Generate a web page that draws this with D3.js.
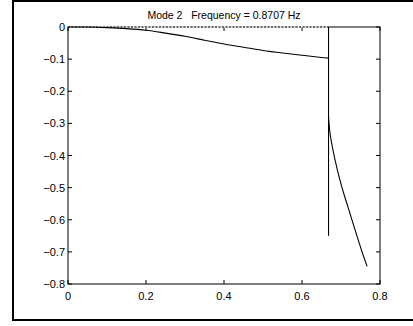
<!DOCTYPE html>
<html>
<head>
<meta charset="utf-8">
<script src="https://cdn.jsdelivr.net/npm/d3@7"></script>
<style>
  body { margin: 0; background: #fff; }
  svg text { font-family: "Liberation Sans", Arial, sans-serif; font-size: 11px; fill: #000; white-space: pre; }
</style>
</head>
<body>
<div id="chart"></div>
<script>
// mode shape, beam part
const beamX = [0, 0.05, 0.1, 0.15, 0.2, 0.25, 0.3, 0.35, 0.4, 0.45, 0.5, 0.55, 0.6, 0.65, 0.668];
const beamY = [0, 0, -0.002, -0.005, -0.01, -0.019, -0.029, -0.041, -0.053, -0.063, -0.073, -0.081, -0.088, -0.095, -0.097];
// tip part
const tipX = [0.668, 0.670, 0.673, 0.685, 0.697, 0.710, 0.723, 0.733, 0.744, 0.755, 0.767];
const tipY = [-0.28, -0.31, -0.34, -0.415, -0.475, -0.53, -0.58, -0.62, -0.662, -0.704, -0.745];
// vertical member
const postX = [0.668, 0.668];
const postY = [0, -0.65];
// undeformed line (dotted)
const baseX = [0, 0.668];
const baseY = [0, 0];

const xTicks = [0, 0.2, 0.4, 0.6, 0.8];
const yTicks = [0, -0.1, -0.2, -0.3, -0.4, -0.5, -0.6, -0.7, -0.8];
const title = "Mode 2   Frequency = 0.8707 Hz";

const W = 413, H = 326;
const svg = d3.select("#chart").append("svg").attr("width", W).attr("height", H);

// outer figure frame
svg.append("path")
    .attr("d", "M13,321 L13,1 L413,1 M13,320 L413,320")
    .attr("fill", "none").attr("stroke", "#000").attr("stroke-width", 2);

const x = d3.scaleLinear().domain([0, 0.8]).range([68, 380]);
const y = d3.scaleLinear().domain([-0.8, 0]).range([284, 27]);

// axes box
svg.append("rect")
    .attr("x", x(0)).attr("y", y(0))
    .attr("width", x(0.8) - x(0)).attr("height", y(-0.8) - y(0))
    .attr("fill", "none").attr("stroke", "#000").attr("stroke-width", 1);

// inward ticks (MATLAB style) on all four sides
const tl = 4;
const tg = svg.append("g").attr("stroke", "#000").attr("stroke-width", 1);
xTicks.forEach(t => {
    tg.append("line").attr("x1", x(t)).attr("x2", x(t)).attr("y1", y(-0.8)).attr("y2", y(-0.8) - tl);
    tg.append("line").attr("x1", x(t)).attr("x2", x(t)).attr("y1", y(0)).attr("y2", y(0) + tl);
});
yTicks.forEach(t => {
    tg.append("line").attr("x1", x(0)).attr("x2", x(0) + tl).attr("y1", y(t)).attr("y2", y(t));
    tg.append("line").attr("x1", x(0.8)).attr("x2", x(0.8) - tl).attr("y1", y(t)).attr("y2", y(t));
});

// tick labels
svg.selectAll(".xl").data(xTicks).enter().append("text")
    .attr("class", "xl")
    .attr("x", d => x(d)).attr("y", y(-0.8) + 16)
    .attr("text-anchor", "middle")
    .text(d => d3.format("")(d));
svg.selectAll(".yl").data(yTicks).enter().append("text")
    .attr("class", "yl")
    .attr("x", x(0) - 3).attr("y", d => y(d) + 4)
    .attr("text-anchor", "end")
    .text(d => d === 0 ? "0" : d3.format(".1f")(d));

// title
svg.append("text")
    .attr("x", (x(0) + x(0.8)) / 2).attr("y", 19)
    .attr("text-anchor", "middle")
    .attr("xml:space", "preserve")
    .style("font-size", "10.5px")
    .text(title);

const line = d3.line().curve(d3.curveCatmullRom).x(d => x(d[0])).y(d => y(d[1]));
const pts = (xs, ys) => xs.map((v, i) => [v, ys[i]]);

// undeformed line: white under, dotted over (covers the solid box top)
svg.append("path").datum(pts(baseX, baseY)).attr("d", line)
    .attr("fill", "none").attr("stroke", "#fff").attr("stroke-width", 1.5);
svg.append("path").datum(pts(baseX, baseY)).attr("d", line)
    .attr("fill", "none").attr("stroke", "#000").attr("stroke-width", 1.2)
    .attr("stroke-dasharray", "2,1.5");

[pts(beamX, beamY), pts(tipX, tipY), pts(postX, postY)].forEach(d => {
    svg.append("path").datum(d).attr("d", line)
        .attr("fill", "none").attr("stroke", "#000").attr("stroke-width", 1.1);
});
</script>
</body>
</html>
